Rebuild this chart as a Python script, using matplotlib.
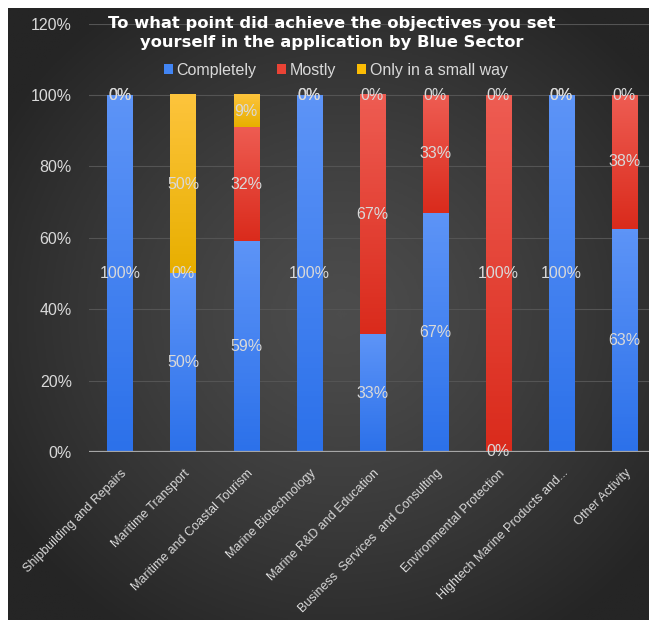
import numpy as np
import matplotlib
matplotlib.use("Agg")
import matplotlib.pyplot as plt
import matplotlib.transforms as mtransforms
from matplotlib.colors import LinearSegmentedColormap
from matplotlib.patches import Patch

plt.rcParams['font.family'] = ['Liberation Sans', 'DejaVu Sans']

# data (shares of respondents per blue sector)
categories = ["Shipbuilding and Repairs", "Maritime Transport", "Maritime and Coastal Tourism",
              "Marine Biotechnology", "Marine R&D and Education", "Business  Services  and Consulting",
              "Environmental Protection", "Hightech Marine Products and...", "Other Activity"]
completely = [1.00, 0.50, 0.59, 1.00, 0.33, 0.67, 0.00, 1.00, 0.625]
mostly = [0.00, 0.00, 0.32, 0.00, 0.67, 0.33, 1.00, 0.00, 0.375]
small_way = [0.00, 0.50, 0.09, 0.00, 0.00, 0.00, 0.00, 0.00, 0.00]
series_names = ["Completely", "Mostly", "Only in a small way"]
yticks = [0, 0.2, 0.4, 0.6, 0.8, 1.0, 1.2]

# colours: (base, top of gradient, bottom of gradient)
colors = [("#4285f4", "#5d94f7", "#2c71ea"),
          ("#ea4335", "#ee5c52", "#da2b1c"),
          ("#fbbc04", "#fdc43c", "#e8af00")]
text_col = "#d9d9d9"

W, H = 649, 620
fig = plt.figure(figsize=(W / 100, H / 100), dpi=100, facecolor="white")

# dark panel with radial gradient
bg = fig.add_axes([8 / W, 0, 1 - 8 / W, (H - 8) / H], zorder=-1)
yy, xx = np.mgrid[0:1:300j, 0:1:300j]
r = np.sqrt(((xx - 0.52) / 0.62) ** 2 + ((yy - 0.50) / 0.62) ** 2)
bg_cmap = LinearSegmentedColormap.from_list("bg", ["#4c4c4c", "#252525"])
bg.imshow(np.clip(r, 0, 1) ** 1.3, cmap=bg_cmap, extent=[0, 1, 0, 1], aspect="auto",
          origin="lower", vmin=0, vmax=1)
bg.axis("off")

ax = fig.add_axes([88.5 / W, (H - 452) / H, (656 - 88.5) / W, (452 - 23.6) / H])
ax.set_facecolor("none")

x = np.arange(len(categories))
bottom = np.zeros(len(categories))
for vals, name, (base, top, bot) in zip([completely, mostly, small_way], series_names, colors):
    vals = np.array(vals)
    bars = ax.bar(x, vals, 0.4, bottom=bottom, color=base, label=name, zorder=2)
    cmap = LinearSegmentedColormap.from_list(name, [bot, top])
    for p in bars:
        h = p.get_height()
        if h > 0:
            x0, y0, w = p.get_x(), p.get_y(), p.get_width()
            ax.imshow(np.linspace(0, 1, 64).reshape(-1, 1), cmap=cmap, origin="lower",
                      extent=[x0, x0 + w, y0, y0 + h], aspect="auto", zorder=3)
        p.set_facecolor("none")
    labels = [f"{int(v * 100 + 0.5)}%" for v in vals]
    ax.bar_label(bars, labels=labels, label_type="center", color=text_col, fontsize=11.5, zorder=5)
    bottom += vals

ax.set_xlim(-0.5, 8.5)
ax.set_ylim(0, 1.2)
ax.set_yticks(yticks)
ax.set_yticklabels([f"{int(round(v * 100))}%" for v in yticks], color=text_col, fontsize=11.5)
ax.set_xticks(x)
ax.set_xticklabels(categories, rotation=45, ha="right", va="center", rotation_mode="anchor",
                   color=text_col, fontsize=9)
ax.tick_params(axis="y", length=0, pad=12)
ax.tick_params(axis="x", length=0, pad=14)
# nudge category labels a little to the right
shift = mtransforms.ScaledTranslation(5 / 100, 0, fig.dpi_scale_trans)
for lbl in ax.get_xticklabels():
    lbl.set_transform(lbl.get_transform() + shift)
ax.grid(axis="y", color="#545454", linewidth=0.8, zorder=0)
ax.set_axisbelow(True)
for s in ax.spines.values():
    s.set_visible(False)
ax.axhline(0, color="#a6a6a6", linewidth=1.6, zorder=4)

fig.text(332 / W, 1 - 16 / H,
         "To what point did achieve the objectives you set\nyourself in the application by Blue Sector",
         ha="center", va="top", fontsize=11.8, fontweight="bold", color="white", linespacing=1.3,
         family="DejaVu Sans")

handles = [Patch(facecolor=c[0]) for c in colors]
fig.legend(handles, series_names, loc="center", bbox_to_anchor=(336 / W, 1 - 70 / H), ncol=3,
           frameon=False, fontsize=11.5, labelcolor=text_col, handlelength=0.55, handleheight=0.55,
           handletextpad=0.25, columnspacing=1.3)

fig.savefig("out.png", dpi=100, facecolor="white")
